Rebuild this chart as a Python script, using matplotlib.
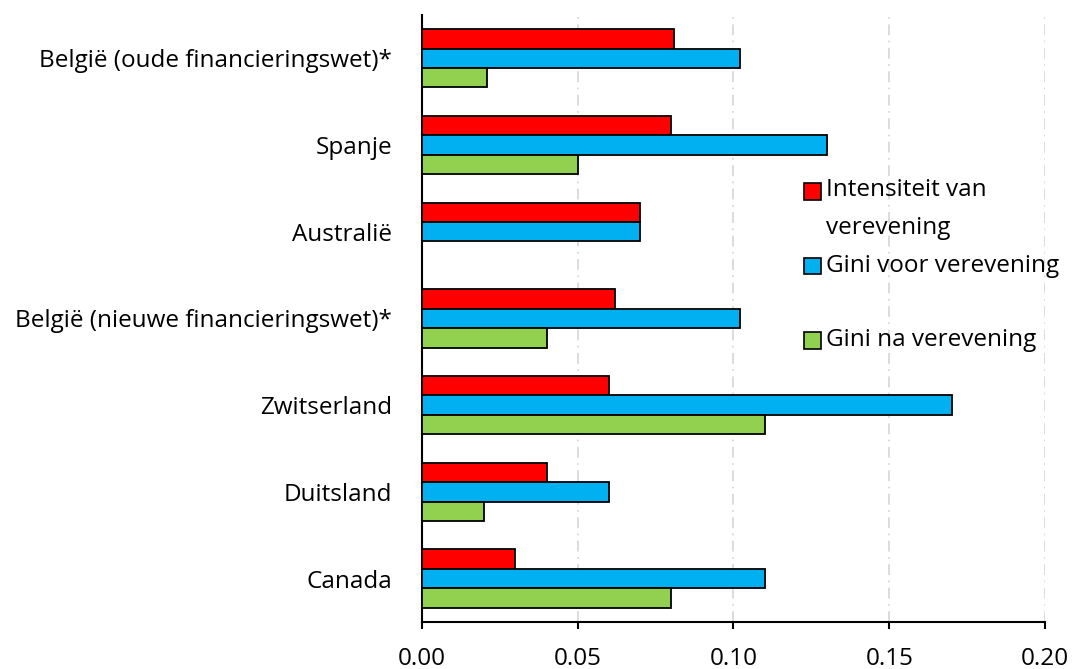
import matplotlib
matplotlib.use("Agg")
import matplotlib.pyplot as plt
from matplotlib.patches import Rectangle
import numpy as np

plt.rcParams['font.family'] = ['Open Sans', 'DejaVu Sans']

# Landen, van boven naar onder
landen = [
    "België (oude financieringswet)*",
    "Spanje",
    "Australië",
    "België (nieuwe financieringswet)*",
    "Zwitserland",
    "Duitsland",
    "Canada",
]
intensiteit = [0.081, 0.080, 0.070, 0.062, 0.060, 0.040, 0.030]
gini_voor = [0.102, 0.130, 0.070, 0.102, 0.170, 0.060, 0.110]
gini_na = [0.021, 0.050, 0.000, 0.040, 0.110, 0.020, 0.080]

reeksen = ["Intensiteit van\nverevening", "Gini voor verevening", "Gini na verevening"]
kleuren = ["#ff0000", "#00b0f0", "#92d050"]
x_ticks = [0.00, 0.05, 0.10, 0.15, 0.20]
x_labels = ["0.00", "0.05", "0.10", "0.15", "0.20"]

FS = 17.5

fig = plt.figure(figsize=(10.74, 6.69), dpi=100)
ax = fig.add_axes([0.3929, 0.0703, 0.5801, 0.9073])

n = len(landen)
pos = np.arange(n)
h = 0.224
for i, (waarden, kleur) in enumerate(zip([intensiteit, gini_voor, gini_na], kleuren)):
    ax.barh(pos + (i - 1) * h, waarden, height=h, color=kleur,
            edgecolor="black", linewidth=1.3, zorder=3)

ax.set_ylim(n - 0.5, -0.5)
ax.set_xlim(0, 0.20)
ax.set_yticks(pos)
ax.set_yticklabels(landen, fontsize=FS)
ax.tick_params(axis="y", length=0, pad=21.5)
ax.set_xticks(x_ticks)
ax.set_xticklabels(x_labels, fontsize=FS)
ax.tick_params(axis="x", direction="out", length=5, width=1.5, pad=13)

for x in x_ticks[1:]:
    ax.axvline(x, color="#d9d9d9", linewidth=1.3, linestyle=(0, (6, 3, 1, 3)), zorder=1)

for s in ["top", "right"]:
    ax.spines[s].set_visible(False)
ax.spines["left"].set_linewidth(1.5)
ax.spines["bottom"].set_linewidth(1.5)

# Legenda
W, H = 1074, 669
leg_y = [191.5, 266, 340.5]
for lab, kleur, yc in zip(reeksen, kleuren, leg_y):
    fig.patches.append(Rectangle((804 / W, 1 - (yc + 8.3) / H), 16.5 / W, 16.5 / H,
                                 transform=fig.transFigure, facecolor=kleur,
                                 edgecolor="black", linewidth=1.2))
    if "\n" in lab:
        fig.text(826 / W, 1 - (yc - 14) / H, lab, fontsize=FS, va="top",
                 ha="left", linespacing=1.8)
    else:
        fig.text(826 / W, 1 - yc / H, lab, fontsize=FS, va="center", ha="left")

fig.savefig("out.png", dpi=100)
